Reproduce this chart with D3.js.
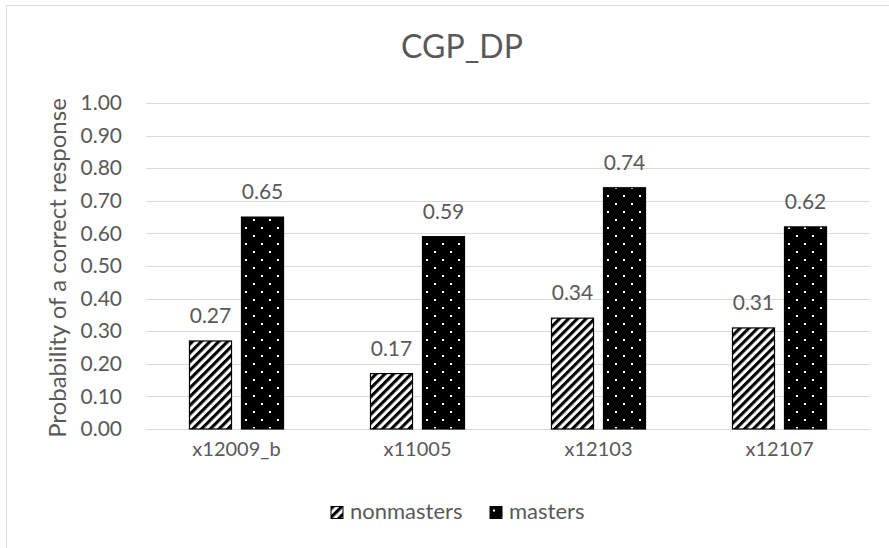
<!DOCTYPE html>
<html>
<head>
<meta charset="utf-8">
<script src="https://cdn.jsdelivr.net/npm/d3@7"></script>
<style>
  html, body { margin: 0; padding: 0; background: #fff; }
  svg { display: block; }
  text { font-family: Lato, "Open Sans", sans-serif; font-weight: 400; fill: #595959; }
</style>
</head>
<body>
<svg id="chart" width="889" height="548"></svg>
<script>
// Chart data
const categories = ["x12009_b", "x11005", "x12103", "x12107"];
const seriesNames = ["nonmasters", "masters"];
const nonmasters = [0.27, 0.17, 0.34, 0.31];
const masters = [0.65, 0.59, 0.74, 0.62];
const yTicks = [0, 0.1, 0.2, 0.3, 0.4, 0.5, 0.6, 0.7, 0.8, 0.9, 1.0];
const chartTitle = "CGP_DP";
const yTitle = "Probability of a correct response";

const seriesValues = { nonmasters, masters };

const svg = d3.select("#chart");
const W = 889, H = 548;
const plot = { left: 146, right: 870, top: 103, bottom: 429 };
const FONT = "Lato, 'Open Sans', sans-serif";

// Outer chart frame
svg.append("rect")
  .attr("x", 6.5).attr("y", 5.5)
  .attr("width", W + 10).attr("height", H + 10)
  .attr("fill", "#fff").attr("stroke", "#d9d9d9").attr("stroke-width", 1);

// Fill patterns
const defs = svg.append("defs");
const stripes = defs.append("pattern")
  .attr("id", "stripes")
  .attr("patternUnits", "userSpaceOnUse")
  .attr("width", 6.2).attr("height", 6.2)
  .attr("patternTransform", "rotate(45)");
stripes.append("rect").attr("width", 6.2).attr("height", 6.2).attr("fill", "#fff");
stripes.append("rect").attr("width", 3.1).attr("height", 6.2).attr("fill", "#000");

const dots = defs.append("pattern")
  .attr("id", "dots")
  .attr("patternUnits", "userSpaceOnUse")
  .attr("width", 16).attr("height", 16);
dots.append("rect").attr("width", 16).attr("height", 16).attr("fill", "#000");
dots.append("rect").attr("x", 3).attr("y", 3).attr("width", 2).attr("height", 2).attr("fill", "#fff");
dots.append("rect").attr("x", 11).attr("y", 11).attr("width", 2).attr("height", 2).attr("fill", "#fff");

const fills = { nonmasters: "url(#stripes)", masters: "url(#dots)" };

// Scales
const x = d3.scaleBand().domain(categories).range([plot.left, plot.right]).padding(0);
const xs = d3.scaleBand().domain(seriesNames).range([0, x.bandwidth()])
  .paddingInner(0.192).paddingOuter(0.836);
const y = d3.scaleLinear().domain([0, 1]).range([plot.bottom, plot.top]);

// Gridlines
svg.append("g")
  .selectAll("line")
  .data(yTicks)
  .join("line")
  .attr("x1", plot.left).attr("x2", plot.right)
  .attr("y1", d => Math.round(y(d)) + 0.5).attr("y2", d => Math.round(y(d)) + 0.5)
  .attr("stroke", "#d9d9d9").attr("stroke-width", 1);

// Y axis labels
const yAxis = d3.axisLeft(y).tickValues(yTicks).tickFormat(d3.format(".2f")).tickSize(0).tickPadding(0);
const yg = svg.append("g").attr("transform", `translate(122,0)`).call(yAxis);
yg.select(".domain").remove();
yg.selectAll("text").attr("font-size", 21).style("fill", "#595959")
  .style("font-family", FONT).style("font-weight", 400);

// X axis labels
const xAxis = d3.axisBottom(x).tickSize(0).tickPadding(0);
const xg = svg.append("g").attr("transform", `translate(0,${plot.bottom + 13})`).call(xAxis);
xg.select(".domain").remove();
xg.selectAll("text").attr("font-size", 20).style("fill", "#595959")
  .style("font-family", FONT).style("font-weight", 400);

// Bars
const groups = svg.append("g")
  .selectAll("g")
  .data(categories)
  .join("g")
  .attr("transform", d => `translate(${x(d)},0)`);

groups.selectAll("rect")
  .data((c, i) => seriesNames.map(s => ({ s, v: seriesValues[s][i] })))
  .join("rect")
  .attr("x", d => xs(d.s))
  .attr("y", d => y(d.v))
  .attr("width", xs.bandwidth())
  .attr("height", d => y(0) - y(d.v))
  .attr("fill", d => fills[d.s])
  .attr("stroke", "#000").attr("stroke-width", 1.2);

// Data labels
groups.selectAll("text.val")
  .data((c, i) => seriesNames.map(s => ({ s, v: seriesValues[s][i] })))
  .join("text")
  .attr("class", "val")
  .attr("x", d => xs(d.s) + xs.bandwidth() / 2)
  .attr("y", d => y(d.v) - 18)
  .attr("text-anchor", "middle")
  .attr("font-size", 21)
  .text(d => d3.format(".2f")(d.v));

// Chart title
svg.append("text")
  .attr("x", 462).attr("y", 58)
  .attr("text-anchor", "middle")
  .attr("font-size", 32)
  .text(chartTitle);

// Y axis title
svg.append("text")
  .attr("transform", `translate(66,${(plot.top + plot.bottom) / 2 + 2}) rotate(-90)`)
  .attr("text-anchor", "middle")
  .attr("font-size", 24)
  .text(yTitle);

// Legend
const legend = svg.append("g").attr("transform", "translate(331,506.5)");
const legendItems = [
  { s: "nonmasters", x: 0 },
  { s: "masters", x: 159 }
];
const li = legend.selectAll("g").data(legendItems).join("g")
  .attr("transform", d => `translate(${d.x},0)`);
li.append("rect")
  .attr("width", 12).attr("height", 12)
  .attr("fill", d => fills[d.s])
  .attr("stroke", "#000").attr("stroke-width", 1);
li.append("text")
  .attr("x", 19).attr("y", 12.5)
  .attr("font-size", 22)
  .text(d => d.s);
</script>
</body>
</html>
